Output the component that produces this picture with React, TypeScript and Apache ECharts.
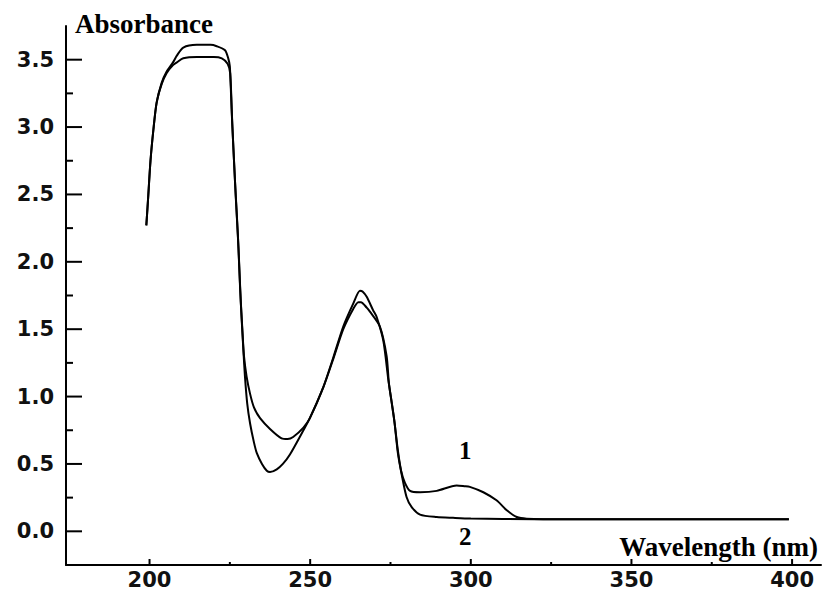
import React, { useEffect, useRef } from "react";
import * as echarts from "echarts";

// Wavelength (nm), Absorbance pairs
const curve1: [number, number][] = [
  [199, 2.27], [199.5, 2.45], [200.3, 2.75], [201.2, 2.98], [202.2, 3.18], [203.8, 3.33],
  [205.3, 3.41], [207.3, 3.48], [208.5, 3.53], [210.5, 3.59], [214.7, 3.61], [219, 3.61],
  [220.9, 3.6], [223.5, 3.57], [224.5, 3.51], [225.0, 3.45], [225.6, 3.1], [226.6, 2.6],
  [227.5, 2.2], [228.2, 1.8], [229.0, 1.45], [229.4, 1.3], [230.2, 1.15], [231.3, 1.02],
  [232.5, 0.92], [234.4, 0.84], [237.5, 0.76], [241.1, 0.69], [243, 0.685], [244.7, 0.7],
  [247.9, 0.77], [249.9, 0.84], [254.1, 1.07], [257.2, 1.29], [260.3, 1.52], [263.4, 1.69],
  [265.5, 1.785], [266.3, 1.78], [267.6, 1.74], [269.6, 1.64], [270.7, 1.59], [272.8, 1.41],
  [274.3, 1.13], [275.3, 0.97], [276.2, 0.82], [277.3, 0.6], [278.3, 0.45], [279.5, 0.36],
  [281.1, 0.3], [284.2, 0.29], [289.4, 0.3], [295.6, 0.34], [298, 0.335], [299.7, 0.33],
  [303.9, 0.29], [308.0, 0.23], [311.2, 0.156], [314.3, 0.106], [317.4, 0.094], [330, 0.09],
  [350, 0.09], [370, 0.09], [399, 0.09],
];

const curve2: [number, number][] = [
  [199, 2.27], [199.5, 2.45], [200.3, 2.75], [201.2, 2.98], [202.2, 3.18], [203.8, 3.32],
  [205.3, 3.4], [207.3, 3.46], [208.5, 3.48], [210.5, 3.51], [214.7, 3.52], [220, 3.52],
  [222.5, 3.51], [224.3, 3.47], [225.1, 3.4], [225.8, 3.0], [226.8, 2.5], [227.7, 2.1],
  [228.4, 1.7], [229.2, 1.35], [229.7, 1.15], [230.4, 0.95], [231.3, 0.8], [232.5, 0.66],
  [233.4, 0.58], [235, 0.5], [236.5, 0.45], [237.5, 0.44], [239.6, 0.46], [241.5, 0.5],
  [243.7, 0.57], [247.9, 0.75], [249.9, 0.84], [254.1, 1.07], [257.2, 1.28], [260.3, 1.5],
  [263.4, 1.65], [265.0, 1.7], [265.8, 1.7], [267.6, 1.66], [268.6, 1.63], [271.7, 1.52],
  [273.8, 1.3], [274.5, 1.1], [275.4, 0.95], [276.3, 0.8], [277.3, 0.58], [278.5, 0.42],
  [280.0, 0.255], [281.6, 0.18], [284.2, 0.124], [289.4, 0.106], [294.5, 0.1], [300, 0.095],
  [320, 0.09], [350, 0.09], [399, 0.09],
];

const xMajorTicks = [200, 250, 300, 350, 400];
const xMinorTicks = [225, 275, 325, 375];
const yMajorTicks = [0, 0.5, 1.0, 1.5, 2.0, 2.5, 3.0, 3.5];
const yMinorTicks = [-0.25, 0.25, 0.75, 1.25, 1.75, 2.25, 2.75, 3.25];

const X_MIN = 174;
const X_MAX = 409;
const Y_MIN = -0.25;
const Y_MAX = 3.75;

const tickFont = () => ({
  fontFamily: "DejaVu Sans",
  fontWeight: "bold" as const,
  fontSize: 21,
  color: "#111",
});

export default function App() {
  const ref = useRef<HTMLDivElement>(null);
  useEffect(() => {
    if (!ref.current) return;
    const chart = echarts.init(ref.current, undefined, { renderer: "svg" });
    // tick marks placed through the axis scales
    const tickSeries = (data: number[][], dx: number, dy: number, w: number) => ({
      type: "custom",
      silent: true,
      clip: false,
      z: 5,
      data,
      encode: { x: 0, y: 1 },
      renderItem: (_params: any, api: any) => {
        const p = api.coord([api.value(0), api.value(1)]);
        return {
          type: "line",
          shape: { x1: p[0], y1: p[1], x2: p[0] + dx, y2: p[1] + dy },
          style: { stroke: "#000", lineWidth: w },
        };
      },
    });
    chart.setOption({
      animation: false,
      backgroundColor: "#fff",
      grid: { left: 66, right: 1, top: 26, bottom: 42 },
      xAxis: {
        type: "value",
        min: X_MIN,
        max: X_MAX,
        axisLine: { show: true, onZero: false, lineStyle: { color: "#000", width: 2 } },
        splitLine: { show: false },
        axisTick: { show: false },
        axisLabel: { ...tickFont(), margin: 4, customValues: xMajorTicks },
      },
      yAxis: {
        type: "value",
        min: Y_MIN,
        max: Y_MAX,
        axisLine: { show: true, onZero: false, lineStyle: { color: "#000", width: 2 } },
        splitLine: { show: false },
        axisTick: { show: false },
        axisLabel: {
          ...tickFont(),
          margin: 12,
          customValues: yMajorTicks,
          formatter: (v: number) => v.toFixed(1),
        },
      },
      series: [
        { type: "line", name: "1", data: curve1, showSymbol: false, smooth: 0.25, lineStyle: { color: "#000", width: 2 } },
        { type: "line", name: "2", data: curve2, showSymbol: false, smooth: 0.25, lineStyle: { color: "#000", width: 2 } },
        tickSeries(yMajorTicks.map((v) => [X_MIN, v]), 16, 0, 2),
        tickSeries(yMinorTicks.map((v) => [X_MIN, v]), 7, 0, 2),
        tickSeries(xMajorTicks.map((v) => [v, Y_MIN]), 0, -6, 2),
        tickSeries(xMinorTicks.map((v) => [v, Y_MIN]), 0, -3, 2),
      ],
      graphic: [
        { type: "text", left: 75, top: 10, style: { text: "Absorbance", font: "bold 27px 'Liberation Serif'", fill: "#000" } },
        { type: "text", right: 4, top: 533, style: { text: "Wavelength (nm)", font: "bold 27px 'Liberation Serif'", fill: "#000" } },
        { type: "text", left: 459, top: 438, style: { text: "1", font: "bold 25px 'Liberation Serif'", fill: "#000" } },
        { type: "text", left: 459, top: 524, style: { text: "2", font: "bold 25px 'Liberation Serif'", fill: "#000" } },
      ],
    });
    return () => chart.dispose();
  }, []);
  return <div ref={ref} style={{ position: "fixed", left: 0, top: 0, width: 822, height: 607 }} />;
}
